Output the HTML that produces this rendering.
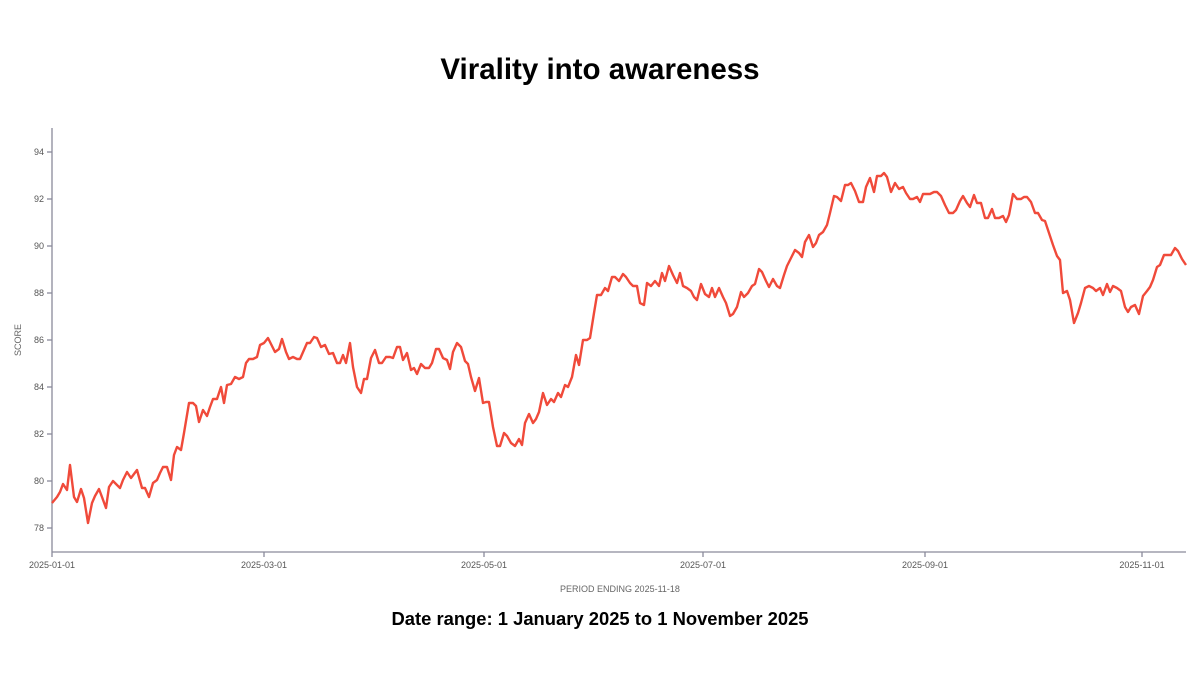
<!DOCTYPE html>
<html><head><meta charset="utf-8"><style>
html,body{margin:0;padding:0;background:#fff;width:1200px;height:700px;overflow:hidden;font-family:"Liberation Sans",sans-serif}
</style></head><body>
<svg width="1200" height="700" viewBox="0 0 1200 700" xmlns="http://www.w3.org/2000/svg">
<text x="600" y="79" text-anchor="middle" font-family="Liberation Sans,sans-serif" font-weight="bold" font-size="29.5" fill="#000">Virality into awareness</text>
<g stroke="#8a8a9a" stroke-width="1.3" fill="none">
<line x1="52" y1="128" x2="52" y2="552"/>
<line x1="52" y1="552" x2="1186" y2="552"/>
<line x1="47" y1="152" x2="52" y2="152"/><line x1="47" y1="199" x2="52" y2="199"/><line x1="47" y1="246" x2="52" y2="246"/><line x1="47" y1="293" x2="52" y2="293"/><line x1="47" y1="340" x2="52" y2="340"/><line x1="47" y1="387" x2="52" y2="387"/><line x1="47" y1="434" x2="52" y2="434"/><line x1="47" y1="481" x2="52" y2="481"/><line x1="47" y1="528" x2="52" y2="528"/>
<line x1="52" y1="552" x2="52" y2="557"/><line x1="264" y1="552" x2="264" y2="557"/><line x1="484" y1="552" x2="484" y2="557"/><line x1="703" y1="552" x2="703" y2="557"/><line x1="925" y1="552" x2="925" y2="557"/><line x1="1142" y1="552" x2="1142" y2="557"/>
</g>
<g font-family="Liberation Sans,sans-serif" font-size="9" fill="#555" text-anchor="end">
<text x="44" y="155">94</text><text x="44" y="202">92</text><text x="44" y="249">90</text><text x="44" y="296">88</text><text x="44" y="343">86</text><text x="44" y="390">84</text><text x="44" y="437">82</text><text x="44" y="484">80</text><text x="44" y="531">78</text>
</g>
<g font-family="Liberation Sans,sans-serif" font-size="9" fill="#555" text-anchor="middle">
<text x="52" y="568">2025-01-01</text><text x="264" y="568">2025-03-01</text><text x="484" y="568">2025-05-01</text><text x="703" y="568">2025-07-01</text><text x="925" y="568">2025-09-01</text><text x="1142" y="568">2025-11-01</text>
<text x="620" y="592" fill="#666">PERIOD ENDING 2025-11-18</text>
<text x="0" y="0" fill="#666" transform="translate(21,340) rotate(-90)">SCORE</text>
</g>
<polyline fill="none" stroke="#f04a3a" stroke-width="2.4" stroke-linejoin="round" points="52,503 57,497 60,492 63,484 67,490 70,465 74,497 77,502 81,489 84,498 88,523 92,503 95,496 99,489 102,497 106,508 109,487 113,481 117,485 120,488 123,480 127,472 131,478 137,470 142,488 145,488 149,497 153,483 157,480 160,473 163,467 167,467 171,480 174,455 177,447 181,450 184,433 189,403 193,403 196,406 199,422 203,410 207,416 210,407 213,399 217,399 221,387 224,403 227,385 231,384 235,377 239,379 243,377 246,363 249,359 253,359 257,357 260,345 264,343 268,338 272,346 275,352 279,349 282,339 286,352 289,359 293,357 297,359 300,359 307,343 310,343 314,337 317,338 321,347 325,345 329,354 333,353 337,363 340,363 343,355 346,363 350,343 353,367 357,387 361,393 364,379 367,379 371,358 375,350 379,363 382,363 386,357 390,357 393,358 397,347 400,347 403,360 407,353 411,370 414,368 417,374 421,364 425,368 429,368 432,363 436,349 439,349 443,358 447,360 450,369 453,352 457,343 461,347 465,361 468,364 471,377 475,391 479,378 483,403 486,402 489,402 493,427 497,446 500,446 504,433 507,436 511,443 515,446 519,439 522,445 525,423 529,414 533,423 536,419 539,412 543,393 547,405 551,399 554,402 558,393 561,397 565,385 568,387 572,377 576,355 579,365 583,340 587,340 590,338 594,313 597,295 601,295 605,288 608,291 612,277 615,277 619,281 623,274 626,277 630,283 633,286 637,286 640,303 644,305 647,283 651,286 655,281 659,286 662,273 665,281 669,266 673,275 677,283 680,273 683,286 687,288 691,291 694,297 697,300 701,284 705,294 709,297 712,288 715,297 719,288 723,297 726,303 730,316 733,314 737,307 741,292 744,297 748,293 752,286 755,284 759,269 762,272 766,281 769,287 773,279 777,286 780,288 784,275 787,266 791,258 795,250 799,253 802,257 805,242 809,235 813,247 816,243 819,235 823,232 827,225 830,213 834,196 837,197 841,201 845,185 848,185 851,183 855,191 859,202 863,202 866,187 870,178 874,192 877,176 881,176 884,173 887,177 891,192 895,183 899,189 903,187 906,193 910,199 913,199 917,197 920,202 923,194 930,194 934,192 937,192 941,196 945,205 949,213 953,213 956,210 960,201 963,196 967,203 970,207 974,195 977,203 981,203 985,218 988,218 992,209 995,218 999,218 1003,216 1006,222 1009,215 1013,194 1017,199 1021,199 1024,197 1027,197 1031,202 1035,213 1038,213 1042,220 1045,221 1049,233 1053,245 1057,256 1060,260 1063,293 1067,291 1070,300 1074,323 1078,313 1081,303 1085,288 1089,286 1093,288 1096,291 1100,288 1103,295 1107,284 1110,292 1113,286 1117,288 1121,291 1125,307 1128,312 1131,307 1135,305 1139,314 1143,296 1147,291 1150,287 1153,280 1157,267 1160,265 1164,255 1171,255 1175,248 1178,251 1182,259 1186,265"/>
<text x="600" y="625" text-anchor="middle" font-family="Liberation Sans,sans-serif" font-weight="bold" font-size="18.4" fill="#000">Date range: 1 January 2025 to 1 November 2025</text>
</svg>
</body></html>
